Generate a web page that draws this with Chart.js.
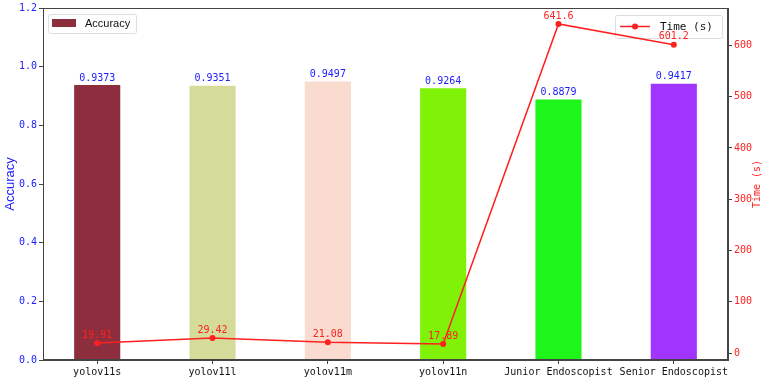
<!DOCTYPE html>
<html>
<head>
<meta charset="utf-8">
<script src="https://cdn.jsdelivr.net/npm/chart.js@4"></script>
<style>
html,body{margin:0;padding:0;background:#fff;}
#wrap{width:767px;height:380px;}
</style>
</head>
<body>
<div id="wrap"><canvas id="c" width="767" height="380"></canvas></div>
<script>
const categories = ['yolov11s','yolov11l','yolov11m','yolov11n','Junior Endoscopist','Senior Endoscopist'];
const accuracy = [0.9373, 0.9351, 0.9497, 0.9264, 0.8879, 0.9417];
const timeSec = [19.91, 29.42, 21.08, 17.89, 641.6, 601.2];
const accuracyLabels = ['0.9373','0.9351','0.9497','0.9264','0.8879','0.9417'];
const timeLabels = ['19.91','29.42','21.08','17.89','641.6','601.2'];
const accTicks = [0, 0.2, 0.4, 0.6, 0.8, 1.0, 1.2];
const timeTicks = [0, 100, 200, 300, 400, 500, 600];
const barColors = ['#8C2E3E','#D5DC9A','#FADBCF','#7FF208','#1EF51A','#A035FF'];

const MONO = '"DejaVu Sans Mono", monospace';
const SANS = '"Liberation Sans", Arial, sans-serif';
const BLUE = '#2020FF';
const RED = '#FF2020';
const SPINE = '#444444';

const overlay = {
  id: 'overlay',
  beforeDatasetsDraw(chart) {
    const ctx = chart.ctx;
    ctx.save();
    function box(x, y, w, h) {
      ctx.fillStyle = 'rgba(255,255,255,0.8)';
      ctx.strokeStyle = '#DDDDDD';
      ctx.lineWidth = 1;
      ctx.beginPath();
      ctx.roundRect(x + 0.5, y + 0.5, w, h, 2);
      ctx.fill();
      ctx.stroke();
    }
    box(48, 14, 88, 19);
    ctx.fillStyle = barColors[0];
    ctx.fillRect(52, 19, 24, 8);
    ctx.fillStyle = '#111';
    ctx.font = '11px ' + SANS;
    ctx.textAlign = 'left';
    ctx.textBaseline = 'middle';
    ctx.fillText('Accuracy', 85, 23.5);
    box(615, 15, 107, 23);
    ctx.strokeStyle = RED;
    ctx.lineWidth = 1.5;
    ctx.beginPath();
    ctx.moveTo(620, 26.5);
    ctx.lineTo(650, 26.5);
    ctx.stroke();
    ctx.fillStyle = RED;
    ctx.beginPath();
    ctx.arc(635, 26.5, 3, 0, Math.PI * 2);
    ctx.fill();
    ctx.fillStyle = '#111';
    ctx.font = '11px ' + MONO;
    ctx.fillText('Time (s)', 660, 27);
    ctx.restore();
  },
  afterDatasetsDraw(chart) {
    const ctx = chart.ctx;
    ctx.save();
    const bm = chart.getDatasetMeta(0);
    ctx.font = '10px ' + MONO;
    ctx.textAlign = 'center';
    ctx.textBaseline = 'bottom';
    ctx.fillStyle = BLUE;
    bm.data.forEach((el, i) => ctx.fillText(accuracyLabels[i], el.x, el.y - 2));
    const lm = chart.getDatasetMeta(1);
    ctx.fillStyle = RED;
    lm.data.forEach((el, i) => ctx.fillText(timeLabels[i], el.x, el.y - 3));
    ctx.restore();
  },
  afterDraw(chart) {
    const ctx = chart.ctx;
    const a = chart.chartArea;
    ctx.save();
    ctx.strokeStyle = SPINE;
    ctx.lineWidth = 1;
    ctx.strokeRect(a.left + 0.5, a.top + 0.5, a.right - a.left - 1, a.bottom - a.top - 1);
    ctx.font = '13px ' + SANS;
    ctx.fillStyle = BLUE;
    ctx.textAlign = 'center';
    ctx.textBaseline = 'middle';
    ctx.translate(10, (a.top + a.bottom) / 2);
    ctx.rotate(-Math.PI / 2);
    ctx.fillText('Accuracy', 0, 0);
    ctx.setTransform(1, 0, 0, 1, 0, 0);
    ctx.fillStyle = RED;
    ctx.font = '10px ' + MONO;
    ctx.translate(757, (a.top + a.bottom) / 2);
    ctx.rotate(-Math.PI / 2);
    ctx.fillText('Time (s)', 0, 0);
    ctx.restore();
  }
};

const barData = accuracy.map((v, i) => ({ x: i, y: v }));
const lineData = timeSec.map((v, i) => ({ x: i, y: v }));

new Chart(document.getElementById('c'), {
  data: {
    datasets: [
      {
        type: 'bar',
        label: 'Accuracy',
        data: barData,
        backgroundColor: barColors,
        borderWidth: 0,
        yAxisID: 'y',
        categoryPercentage: 1.0,
        barPercentage: 0.4,
        order: 2
      },
      {
        type: 'line',
        label: 'Time (s)',
        data: lineData,
        borderColor: RED,
        backgroundColor: RED,
        borderWidth: 1.5,
        pointRadius: 3,
        pointHoverRadius: 3,
        pointBorderWidth: 0,
        tension: 0,
        yAxisID: 'y1',
        order: 1
      }
    ]
  },
  options: {
    responsive: false,
    animation: false,
    devicePixelRatio: 1,
    layout: { padding: { top: 8, left: 0, right: 0, bottom: 0 } },
    plugins: { legend: { display: false }, tooltip: { enabled: false } },
    scales: {
      x: {
        type: 'linear',
        min: -0.47,
        max: 5.47,
        offset: false,
        grid: { display: true, drawOnChartArea: false, tickLength: 4, color: SPINE, offset: false },
        border: { display: true, color: SPINE },
        ticks: { color: '#111', font: { family: MONO, size: 10 }, padding: 2, maxRotation: 0, autoSkip: false,
          callback: v => categories[Math.round(v)] },
        afterBuildTicks(scale) { scale.ticks = categories.map((c, i) => ({ value: i })); },
        afterFit(scale) { scale.height = 20; }
      },
      y: {
        type: 'linear',
        position: 'left',
        min: 0,
        max: 1.2,
        grid: { display: true, drawOnChartArea: false, tickLength: 4, color: SPINE },
        border: { display: true, color: SPINE },
        ticks: { color: BLUE, font: { family: MONO, size: 10 }, padding: 2,
          callback: v => v.toFixed(1) },
        afterBuildTicks(scale) { scale.ticks = accTicks.map(v => ({ value: v })); },
        afterFit(scale) { scale.width = 43; }
      },
      y1: {
        type: 'linear',
        position: 'right',
        min: -13.3,
        max: 672.7,
        grid: { display: true, drawOnChartArea: false, tickLength: 4, color: SPINE },
        border: { display: true, color: SPINE },
        ticks: { color: RED, font: { family: MONO, size: 10 }, padding: 2,
          callback: v => String(Math.round(v)) },
        afterBuildTicks(scale) { scale.ticks = timeTicks.map(v => ({ value: v })); },
        afterFit(scale) { scale.width = 39; }
      }
    }
  },
  plugins: [overlay]
});
</script>
</body>
</html>
